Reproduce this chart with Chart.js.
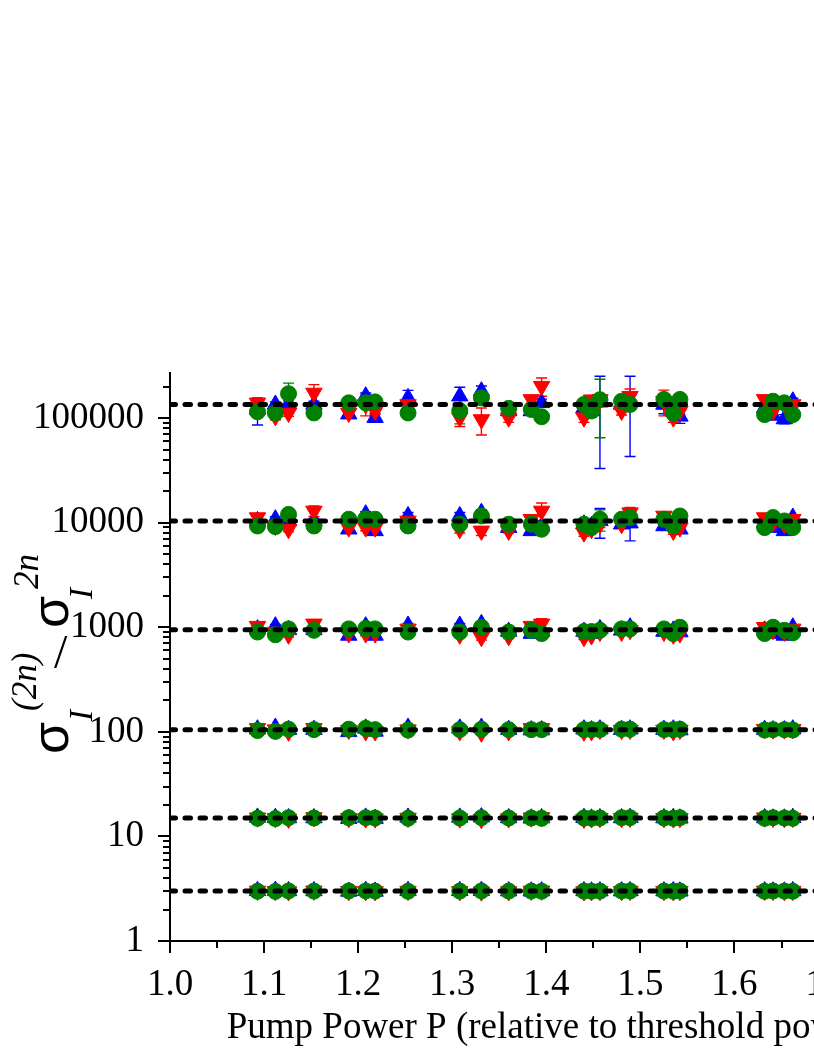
<!DOCTYPE html>
<html>
<head>
<meta charset="utf-8">
<script src="https://cdn.jsdelivr.net/npm/chart.js@4.4.1/dist/chart.umd.min.js"></script>
<style>
  html, body { margin: 0; padding: 0; background: #fff; overflow: hidden; width: 814px; height: 1053px; }
  canvas { display: block; }
</style>
</head>
<body>
<canvas id="c" width="960" height="1053" style="width:960px;height:1053px"></canvas>
<script>
// ---------------- data ----------------
const pumpPower = [1.093, 1.112, 1.126, 1.153, 1.190, 1.208, 1.218, 1.253, 1.308, 1.331, 1.360, 1.384, 1.395,
                   1.440, 1.448, 1.457, 1.480, 1.489, 1.525, 1.535, 1.542, 1.632, 1.641, 1.653, 1.662];

const gaussianLevels = [3, 15, 105, 945, 10395, 135135];

// blue (up triangles)
const blueN2 = [3.02, 3.03, 3.01, 3.01, 2.98, 3.03, 2.98, 3.03, 3.02, 3.03, 3.00, 2.99, 3.00, 3.01, 2.99, 3.00, 3.00, 3.01, 3.00, 3.01, 2.99, 3.00, 2.99, 2.99, 3.01];
const blueN3 = [15.2, 15.1, 15.0, 15.0, 14.8, 15.2, 14.8, 15.2, 15.2, 15.3, 15.0, 14.9, 15.0, 15.1, 14.9, 15.0, 15.0, 15.1, 15.0, 15.1, 14.9, 15.0, 14.9, 14.9, 15.1];
const blueN4 = [106, 110, 105, 105, 100, 108, 101, 110, 108, 110, 105, 104, 104, 106, 104, 106, 105, 106, 105, 106, 104, 105, 104, 104, 106];
const blueN5 = [960, 1025, 945, 945, 835, 1025, 835, 1040, 1040, 1078, 910, 870, 910, 910, 870, 965, 935, 1000, 910, 935, 900, 935, 870, 835, 1000];
const blueN6 = [10400, 10800, 10400, 10400, 8660, 12060, 8350, 11600, 11600, 12480, 8970, 8350, 9300, 9670, 9300, 10400, 9670, 9900, 9300, 10000, 8660, 10000, 8970, 8350, 11200];
const blueN7 = [121000, 135000, 136000, 135000, 109000, 162000, 101000, 156000, 162000, 181000, 117000, 117000, 140000, 125000, 117000, 142000, 135000, 147000, 135000, 117000, 104000, 125000, 106000, 98000, 145000];
const blueN5err = [40, 40, 40, 40, 40, 50, 40, 50, 50, 50, 40, 40, 40, 50, 40, 80, 40, 80, 40, 40, 40, 40, 40, 40, 40];
const blueN6err = [600, 600, 600, 600, 500, 700, 500, 900, 900, 800, 400, 500, 600, 600, 600, 3300, 600, 3200, 700, 500, 700, 600, 500, 500, 600];
const blueN7err = [35000, 8000, 10000, 10000, 8000, 12000, 10000, 28000, 35000, 22000, 8000, 10000, 12000, 15000, 10000, 109000, 10000, 104000, 25000, 12000, 15000, 8000, 8000, 10000, 10000];

// red (down triangles)
const redN2 = [3.01, 2.99, 2.97, 3.02, 2.99, 2.98, 2.98, 3.00, 2.98, 2.96, 2.98, 3.01, 3.02, 2.97, 2.98, 2.99, 2.99, 3.00, 2.99, 2.98, 2.99, 3.01, 3.00, 2.99, 3.00];
const redN3 = [15.1, 14.9, 14.7, 15.2, 14.9, 14.8, 14.8, 15.0, 14.8, 14.6, 14.8, 15.1, 15.2, 14.7, 14.8, 14.9, 14.9, 15.0, 14.9, 14.8, 14.9, 15.1, 15.0, 14.9, 15.0];
const redN4 = [108, 105, 100, 108, 104, 101, 101, 105, 101, 98, 101, 108, 108, 100, 101, 104, 104, 104, 104, 101, 104, 106, 105, 105, 106];
const redN5 = [1025, 900, 847, 1078, 870, 870, 870, 965, 847, 803, 820, 1025, 1078, 803, 835, 900, 900, 935, 900, 847, 870, 1000, 935, 900, 965];
const redN6 = [11200, 9300, 8660, 12950, 8970, 8970, 8970, 10400, 8660, 8350, 8350, 10800, 12950, 8030, 8660, 9670, 9670, 12480, 11600, 8350, 8970, 11200, 10000, 9670, 10800];
const redN7 = [140000, 104000, 112000, 174000, 112000, 135000, 117000, 135000, 101000, 97000, 101000, 151000, 202000, 101000, 150000, 151000, 117000, 162000, 145000, 101000, 117000, 151000, 117000, 135000, 135000];
const redN5err = [50, 40, 40, 60, 40, 40, 40, 40, 40, 50, 40, 60, 130, 40, 40, 50, 40, 60, 50, 40, 40, 50, 40, 40, 40];
const redN6err = [700, 600, 500, 1500, 600, 600, 500, 600, 700, 800, 400, 800, 2500, 600, 600, 700, 600, 1500, 900, 600, 600, 900, 600, 600, 600];
const redN7err = [12000, 8000, 8000, 35000, 10000, 30000, 8000, 8000, 18000, 28000, 10000, 12000, 40000, 10000, 12000, 15000, 10000, 28000, 40000, 10000, 8000, 15000, 10000, 10000, 8000];

// green (circles)
const greenN2 = [2.99, 2.98, 3.01, 3.00, 3.01, 3.01, 3.00, 2.99, 3.00, 3.01, 3.00, 3.00, 2.99, 3.00, 2.99, 3.00, 3.01, 3.01, 3.00, 2.99, 3.01, 2.99, 3.01, 3.00, 2.99];
const greenN3 = [14.9, 14.8, 15.1, 15.0, 15.1, 15.1, 15.0, 14.9, 15.0, 15.1, 15.0, 15.0, 14.9, 15.0, 14.9, 15.0, 15.1, 15.1, 15.0, 14.9, 15.1, 14.9, 15.1, 15.0, 14.9];
const greenN4 = [103, 101, 106, 105, 106, 108, 105, 104, 105, 106, 105, 105, 105, 105, 105, 105, 106, 106, 105, 105, 106, 104, 105, 105, 104];
const greenN5 = [900, 847, 965, 935, 965, 975, 965, 900, 900, 1000, 900, 935, 870, 910, 910, 935, 965, 965, 965, 870, 1000, 870, 1000, 935, 885];
const greenN6 = [9300, 9170, 12000, 9300, 10800, 10900, 10800, 9300, 9670, 11600, 9670, 9670, 8660, 9670, 8970, 10800, 10800, 11200, 10800, 9300, 11600, 8970, 11200, 10400, 8970];
const greenN7 = [115000, 112000, 171000, 112000, 140000, 140000, 143000, 112000, 118000, 156000, 124000, 121000, 103000, 135000, 117000, 150000, 145000, 135000, 151000, 112000, 151000, 108000, 145000, 140000, 108000];
const greenN5err = [40, 40, 40, 40, 40, 40, 40, 40, 40, 40, 40, 40, 40, 40, 40, 60, 40, 40, 40, 40, 40, 40, 40, 40, 40];
const greenN6err = [500, 500, 1200, 500, 500, 500, 500, 500, 700, 700, 400, 500, 500, 500, 500, 2500, 600, 600, 600, 500, 600, 500, 500, 500, 500];
const greenN7err = [8000, 6000, 45000, 8000, 12000, 8000, 10000, 10000, 30000, 10000, 8000, 10000, 8000, 10000, 15000, 85000, 10000, 12000, 10000, 10000, 10000, 8000, 8000, 8000, 8000];

// axis ticks
const xRange = [1.0, 1.813];
const xMajorTicks = [1.0, 1.1, 1.2, 1.3, 1.4, 1.5, 1.6, 1.7, 1.8];
const xMinorTicks = [1.05, 1.15, 1.25, 1.35, 1.45, 1.55, 1.65, 1.75];
const yRange = [1, 270000];
const yMajorTicks = [1, 10, 100, 1000, 10000, 100000];
const yMinorMultipliers = [2, 3, 4, 5, 6, 7, 8, 9];

const xTitle = 'Pump Power P (relative to threshold power)';

// ---------------- build datasets ----------------
function buildPoints(levels) {
  const pts = [];
  levels.forEach(arr => arr.forEach((v, i) => pts.push({ x: pumpPower[i], y: v })));
  return pts;
}
function buildErrors(levels) {
  const errs = [];
  levels.forEach(arr => arr.forEach(v => errs.push(v)));
  return errs;
}
const zeros = pumpPower.map(() => 0);

const BLUE = '#0000ff', RED = '#ff0000', GREEN = '#008000';
const serif = '"Liberation Serif", "Times New Roman", Times, serif';

const datasets = [];
gaussianLevels.forEach(level => {
  datasets.push({
    type: 'line',
    data: [{ x: xRange[0], y: level }, { x: xRange[1], y: level }],
    borderColor: '#000',
    borderWidth: 5,
    borderDash: [5.5, 9.5],
    borderCapStyle: 'round',
    pointRadius: 0,
    showLine: true,
    fill: false,
    order: 0
  });
});
datasets.push({
  label: 'blue',
  data: buildPoints([blueN2, blueN3, blueN4, blueN5, blueN6, blueN7]),
  errorBars: buildErrors([zeros, zeros, zeros, blueN5err, blueN6err, blueN7err]),
  pointStyle: 'triangle', rotation: 0, pointRadius: 9.5,
  backgroundColor: BLUE, borderColor: BLUE, borderWidth: 1, order: 3
});
datasets.push({
  label: 'red',
  data: buildPoints([redN2, redN3, redN4, redN5, redN6, redN7]),
  errorBars: buildErrors([zeros, zeros, zeros, redN5err, redN6err, redN7err]),
  pointStyle: 'triangle', rotation: 180, pointRadius: 9.5,
  backgroundColor: RED, borderColor: RED, borderWidth: 1, order: 2
});
datasets.push({
  label: 'green',
  data: buildPoints([greenN2, greenN3, greenN4, greenN5, greenN6, greenN7]),
  errorBars: buildErrors([zeros, zeros, zeros, greenN5err, greenN6err, greenN7err]),
  pointStyle: 'circle', pointRadius: 8,
  backgroundColor: GREEN, borderColor: GREEN, borderWidth: 1, order: 1
});

// ---------------- plugins ----------------
const errorBarPlugin = {
  id: 'errorBars',
  beforeDatasetsDraw(chart) {
    const { ctx, scales: { x, y } } = chart;
    ctx.save();
    chart.data.datasets.forEach(ds => {
      if (!ds.errorBars) return;
      ctx.strokeStyle = ds.borderColor;
      ctx.lineWidth = 1.4;
      ctx.beginPath();
      ds.data.forEach((p, i) => {
        const e = ds.errorBars[i];
        if (!e) return;
        const px = x.getPixelForValue(p.x);
        const top = y.getPixelForValue(p.y + e);
        const bot = y.getPixelForValue(Math.max(p.y - e, 1e-6));
        ctx.moveTo(px, top); ctx.lineTo(px, bot);
        ctx.moveTo(px - 5.5, top); ctx.lineTo(px + 5.5, top);
        ctx.moveTo(px - 5.5, bot); ctx.lineTo(px + 5.5, bot);
      });
      ctx.stroke();
    });
    ctx.restore();
  }
};

const axisTicksPlugin = {
  id: 'axisTicks',
  afterDraw(chart) {
    const { ctx, chartArea, scales: { x, y } } = chart;
    ctx.save();
    ctx.strokeStyle = '#000';
    ctx.lineWidth = 2;
    ctx.beginPath();
    xMajorTicks.forEach(v => {
      const px = Math.round(x.getPixelForValue(v));
      ctx.moveTo(px, chartArea.bottom); ctx.lineTo(px, chartArea.bottom + 12);
    });
    xMinorTicks.forEach(v => {
      const px = Math.round(x.getPixelForValue(v));
      ctx.moveTo(px, chartArea.bottom); ctx.lineTo(px, chartArea.bottom + 7);
    });
    yMajorTicks.forEach(v => {
      const py = Math.round(y.getPixelForValue(v));
      ctx.moveTo(chartArea.left, py); ctx.lineTo(chartArea.left - 12, py);
      yMinorMultipliers.forEach(m => {
        const mv = v * m;
        if (mv > yRange[1]) return;
        const my = Math.round(y.getPixelForValue(mv));
        ctx.moveTo(chartArea.left, my); ctx.lineTo(chartArea.left - 7, my);
      });
    });
    ctx.stroke();
    ctx.restore();
  }
};

const yTitlePlugin = {
  id: 'yTitle',
  afterDraw(chart) {
    const { ctx, chartArea } = chart;
    const cy = (chartArea.top + chartArea.bottom) / 2;
    const y0 = cy + 97;      // bottom (start) of the rotated title
    const base = 68;          // screen x of the main baseline
    ctx.save();
    ctx.fillStyle = '#000';
    ctx.textAlign = 'left';
    ctx.textBaseline = 'alphabetic';
    const put = (txt, font, offset, shift) => {
      ctx.save();
      ctx.translate(base + shift, y0 - offset);
      ctx.rotate(-Math.PI / 2);
      ctx.font = font;
      ctx.fillText(txt, 0, 0);
      ctx.restore();
    };
    const sig = '52px "Liberation Sans", Arial, sans-serif';
    const it = 'italic 33px ' + serif;
    const sup = 'italic 35px ' + serif;
    put('σ', sig, 0, 0);
    put('I', it, 33, 24);
    put('(2n)', sup, 43, -32);
    // the slash
    ctx.font = '48px ' + serif;
    ctx.fillText('/', base - 14, y0 - 86);
    put('σ', sig, 126, 0);
    put('I', it, 155, 24);
    put('2n', sup, 165, -30);
    ctx.restore();
  }
};

// ---------------- chart ----------------
new Chart(document.getElementById('c'), {
  type: 'scatter',
  data: { datasets },
  options: {
    responsive: false,
    animation: false,
    events: [],
    layout: { padding: { top: 373, right: 14, left: 0, bottom: 0 } },
    plugins: { legend: { display: false }, tooltip: { enabled: false } },
    scales: {
      x: {
        type: 'linear',
        min: xRange[0], max: xRange[1],
        grid: { display: false },
        border: { display: true, color: '#000', width: 2 },
        afterBuildTicks: s => { s.ticks = xMajorTicks.map(v => ({ value: v })); },
        afterFit: s => { s.height = 112; },
        ticks: {
          autoSkip: false, maxRotation: 0, padding: 14,
          color: '#000', font: { family: serif, size: 37 },
          callback: v => Number(v).toFixed(1)
        },
        title: {
          display: true, text: xTitle, color: '#000',
          font: { family: serif, size: 37 },
          padding: { top: 0, bottom: 3 }
        }
      },
      y: {
        type: 'logarithmic',
        min: yRange[0], max: yRange[1],
        grid: { display: false },
        border: { display: true, color: '#000', width: 2 },
        afterBuildTicks: s => { s.ticks = yMajorTicks.map(v => ({ value: v })); },
        afterFit: s => { s.width = 170; },
        ticks: {
          autoSkip: false, padding: 18,
          color: '#000', font: { family: serif, size: 37 },
          callback: v => String(v)
        }
      }
    }
  },
  plugins: [errorBarPlugin, axisTicksPlugin, yTitlePlugin]
});
</script>
</body>
</html>
